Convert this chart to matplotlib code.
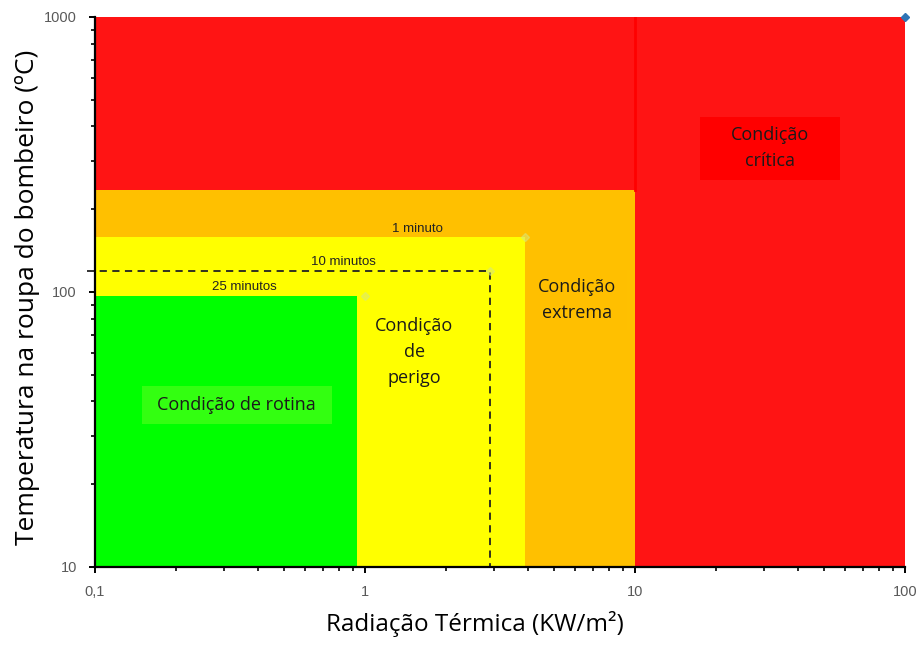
import numpy as np
import matplotlib.pyplot as plt
from matplotlib.patches import Rectangle
from matplotlib.ticker import FixedLocator, FixedFormatter, LogLocator, NullFormatter

# ----------------------------
# Data
# ----------------------------
zone_names = ["Condição de rotina", "Condição\nde\nperigo", "Condição\nextrema", "Condição\ncrítica"]
zone_x_max = [0.93, 3.9, 10, 100]          # KW/m2
zone_y_max = [97, 158, 235, 1000]          # ºC
zone_colors = ["#00FF00", "#FFFF00", "#FFC000", "#FF1414"]

limit_x = 2.9       # 10 minutos (dashed)
limit_y = 119

time_labels = ["1 minuto", "10 minutos", "25 minutos"]
time_label_x = [1.56, 0.83, 0.357]
time_label_y = [161, 122, 99]

x_ticks = [0.1, 1, 10, 100]
x_tick_labels = ["0,1", "1", "10", "100"]
y_ticks = [10, 100, 1000]
y_tick_labels = ["10", "100", "1000"]

X_MIN, Y_MIN = 0.1, 10

# ----------------------------
# Figure
# ----------------------------
fig = plt.figure(figsize=(9.18, 6.46), dpi=100)
ax = fig.add_axes([0.1035, 0.1223, 0.8825, 0.8514])
ax.set_xscale("log")
ax.set_yscale("log")
ax.set_xlim(0.1, 100)
ax.set_ylim(10, 1000)

# zones drawn from the largest to the smallest
for xm, ym, c in reversed(list(zip(zone_x_max, zone_y_max, zone_colors))):
    ax.fill_between([X_MIN, xm], Y_MIN, ym, color=c, linewidth=0, zorder=1)

# red line at the orange edge
ax.plot([zone_x_max[2], zone_x_max[2]], [zone_y_max[2], zone_y_max[3]],
        color="#FF0000", lw=2, zorder=2)

# dashed 10 minutes limit
ax.plot([0.093, limit_x, limit_x], [limit_y, limit_y, Y_MIN], color="#222222",
        lw=1.3, ls=(0, (4, 3)), zorder=3, clip_on=False)

# faint marker points
ax.plot([1, limit_x, zone_x_max[1]], [zone_y_max[0], limit_y, zone_y_max[1]], "D",
        ms=4, color="#D8E87A", alpha=0.5, zorder=3)
ax.plot([100], [1000], "D", ms=4, color="#2E75B6", zorder=5, clip_on=False)

for t, tx, ty in zip(time_labels, time_label_x, time_label_y):
    ax.text(tx, ty, t, fontsize=9.5, family="Liberation Sans", color="#222222",
            ha="center", va="bottom", zorder=4)

# label boxes (axes fractions)
boxes = [((0.058, 0.260), 0.235, 0.069, "#33FF11"),
         ((0.532, 0.431), 0.125, 0.109, "#FFBF00"),
         ((0.747, 0.704), 0.173, 0.114, "#FF0000")]
for (bx, by), bw, bh, bc in boxes:
    ax.add_patch(Rectangle((bx, by), bw, bh, transform=ax.transAxes, fc=bc,
                           ec="none", zorder=3))

# region labels
label_pos = [(0.174, 0.295), (0.394, 0.391), (0.595, 0.485), (0.833, 0.762)]
for name, (lx, ly) in zip(zone_names, label_pos):
    ax.text(lx, ly, name, transform=ax.transAxes, family="Open Sans", fontsize=13,
            color="#1a1a1a", ha="center", va="center", zorder=4, linespacing=1.6)

# axes styling
for s in ["top", "right"]:
    ax.spines[s].set_visible(False)
for s in ["left", "bottom"]:
    ax.spines[s].set_linewidth(1.6)
    ax.spines[s].set_zorder(6)

ax.xaxis.set_major_locator(FixedLocator(x_ticks))
ax.xaxis.set_major_formatter(FixedFormatter(x_tick_labels))
ax.yaxis.set_major_locator(FixedLocator(y_ticks))
ax.yaxis.set_major_formatter(FixedFormatter(y_tick_labels))
ax.xaxis.set_minor_locator(LogLocator(base=10, subs=np.arange(2, 10)))
ax.yaxis.set_minor_locator(LogLocator(base=10, subs=np.arange(2, 10)))
ax.xaxis.set_minor_formatter(NullFormatter())
ax.yaxis.set_minor_formatter(NullFormatter())
ax.tick_params(which="major", direction="out", length=4, width=1.4,
               labelsize=10.5, labelcolor="#595959", pad=9)
ax.tick_params(which="minor", direction="out", length=3, width=1.2)
for lbl in ax.get_xticklabels() + ax.get_yticklabels():
    lbl.set_family("Liberation Sans")

ax.set_xlabel("Radiação Térmica (KW/m²)", fontsize=17.5, family="Open Sans")
ax.xaxis.set_label_coords(0.469, -0.08)
ax.set_ylabel("Temperatura na roupa do bombeiro (ºC)", fontsize=19, family="Open Sans")
ax.yaxis.set_label_coords(-0.068, 0.49)

fig.savefig("out.png", dpi=100)
